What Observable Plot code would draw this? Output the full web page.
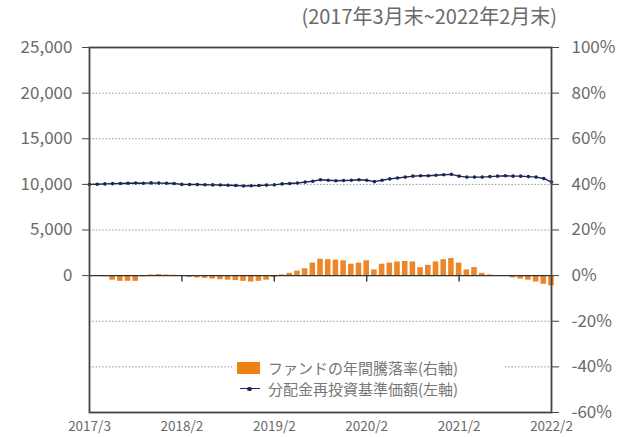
<!DOCTYPE html>
<html><head><meta charset="utf-8">
<script src="https://cdn.jsdelivr.net/npm/d3@7"></script>
<script src="https://cdn.jsdelivr.net/npm/@observablehq/plot@0.6"></script>
<style>
html,body{margin:0;padding:0;background:#fff;}
#wrap{position:relative;width:627px;height:437px;font-family:"Noto Sans CJK JP","Noto Sans",sans-serif;}
#sub{position:absolute;right:70px;top:4px;font-size:20px;color:#6a6a6a;line-height:1.2;}
#legend{position:absolute;left:232px;top:355px;width:271px;height:44px;background:#fff;font-size:15px;color:#777;}
.row{position:absolute;left:5px;display:flex;align-items:center;white-space:nowrap;line-height:1;}
.sw{width:23px;height:12px;background:#ee8116;margin-right:8px;}
.ln{position:relative;width:23px;height:12px;margin-right:8px;}
.ln:before{content:"";position:absolute;left:3px;right:0;top:5.5px;height:1.4px;background:#1c2757;}
.ln:after{content:"";position:absolute;left:10px;top:4px;width:4.5px;height:4.5px;border-radius:2.5px;background:#1c2757;}
</style></head>
<body><div id="wrap"><div id="chart"></div>
<div id="sub">(2017年3月末~2022年2月末)</div>
<div id="legend">
<div class="row" style="top:5px"><div class="sw"></div>ファンドの年間騰落率(右軸)</div>
<div class="row" style="top:26px"><div class="ln"></div>分配金再投資基準価額(左軸)</div>
</div></div>
<script>
// Line: month-end NAV (dividend reinvested), 2017/2 .. 2022/2 (index 0..60)
const navValues = [10000,10020,10050,10080,10100,10120,10150,10130,10160,10140,10120,10100,
  10000,9980,9990,9960,9940,9930,9900,9880,9830,9850,9870,9920,
  9950,10050,10100,10150,10250,10350,10500,10450,10400,10420,10450,10500,
  10450,10300,10450,10600,10700,10800,10900,10950,10950,11000,11050,11100,
  10900,10800,10800,10800,10850,10900,10950,10900,10900,10850,10800,10650,
  10250];
// Bars: annual return %, 2017/3 .. 2022/2 (index 1..60)
const returnPct = [-0.3,-0.5,-2.0,-2.5,-2.5,-2.5,-0.5,0.3,0.5,0.3,0.2,-0.3,
  -0.8,-1.0,-1.2,-1.5,-1.8,-2.0,-2.2,-2.5,-2.8,-2.5,-2.0,-0.8,
  0.3,1.0,2.0,3.0,5.5,7.2,7.0,6.8,6.5,5.0,5.5,6.5,
  2.5,5.0,5.5,6.0,6.2,6.0,3.5,4.5,6.0,7.0,7.5,5.5,
  2.5,3.5,1.0,0.3,0.0,-0.2,-1.0,-1.5,-2.0,-2.8,-3.8,-4.5];
const xTickIdx = [0,12,24,36,48,60];
const xTickLabels = ["2017/3","2018/2","2019/2","2020/2","2021/2","2022/2"];
const leftTicks = [0,5000,10000,15000,20000,25000];
const rightTicksPct = [-60,-40,-20,0,20,40,60,80,100];
const gridLeft = [20000,15000,10000,5000,-5000,-10000];

const ratio = 250; // 1% on right axis = 250 on left axis
const navData = navValues.map((v,i)=>({i, v}));
const barData = returnPct.map((p,k)=>({i:k+1, v:p*ratio}));

const chart = Plot.plot({
  width:627, height:437,
  marginTop:47, marginBottom:25, marginLeft:89, marginRight:76,
  style:{fontFamily:'"Noto Sans CJK JP","Noto Sans",sans-serif', background:"#fff"},
  x:{domain:[0,60], axis:null},
  y:{domain:[-15000,25000], axis:null},
  marks:[
    Plot.ruleY(gridLeft,{stroke:"#8f969f", strokeWidth:1, strokeDasharray:"1.5,1.8"}),
    Plot.rectY(barData,{x1:d=>d.i-0.36, x2:d=>d.i+0.36, y1:0, y2:"v", fill:"#ec8628"}),
    Plot.ruleY([0],{stroke:"#333", strokeWidth:1.4}),
    Plot.ruleX(xTickIdx.slice(1,5),{y1:0, y2:-700, stroke:"#333", strokeWidth:1.4}),
    Plot.line(navData,{x:"i", y:"v", stroke:"#1c2757", strokeWidth:1.4}),
    Plot.dot(navData,{x:"i", y:"v", r:1.8, fill:"#1c2757", stroke:null}),
    Plot.frame({stroke:"#444", strokeWidth:1.8}),
    Plot.axisY(leftTicks,{anchor:"left", tickSize:7, tickPadding:10, fontSize:17, fill:"#6a6a6a", stroke:"#444",
      tickFormat:d3.format(","), label:null}),
    Plot.axisY(rightTicksPct.map(p=>p*ratio),{anchor:"right", tickSize:7, tickPadding:13, fontSize:17, fill:"#6a6a6a", stroke:"#444",
      tickFormat:d=>Math.round(d/ratio)+"%", label:null}),
    Plot.axisX(xTickIdx,{anchor:"bottom", tickSize:0, tickPadding:9, fontSize:13.5, fill:"#6a6a6a",
      tickFormat:d=>xTickLabels[xTickIdx.indexOf(d)], label:null})
  ]
});
document.getElementById("chart").appendChild(chart);
</script></body></html>
